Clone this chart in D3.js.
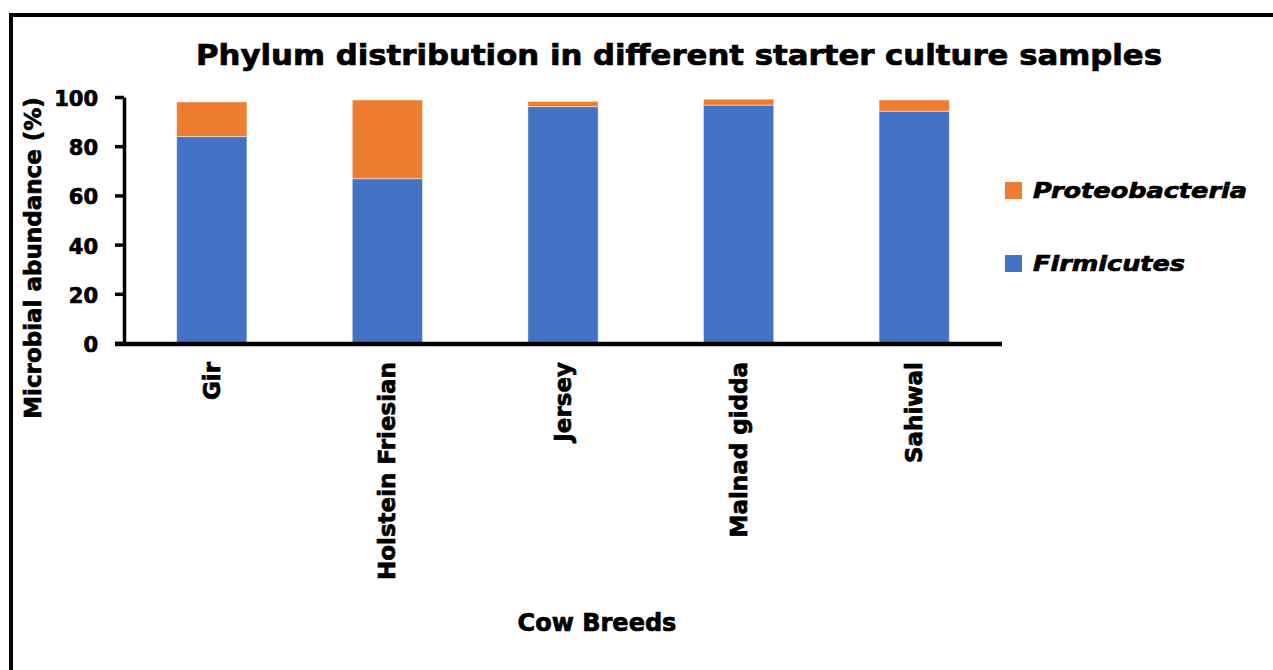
<!DOCTYPE html>
<html>
<head>
<meta charset="utf-8">
<script src="https://cdn.jsdelivr.net/npm/d3@7"></script>
<style>
  body { margin: 0; background: #fff; }
  svg { display: block; }
  text { font-family: "DejaVu Sans", "Liberation Sans", sans-serif; font-weight: bold; fill: #000;
         stroke: #000; stroke-width: 0.7px; paint-order: stroke; }
</style>
</head>
<body>
<div id="chart"></div>
<script>
// Data
const breeds = ["Gir", "Holstein Friesian", "Jersey", "Malnad gidda", "Sahiwal"];
const firmicutes = [83.9, 66.8, 96.1, 96.7, 94.2];
const proteobacteria = [14.1, 32.0, 2.1, 2.4, 4.6];
const seriesNames = ["Firmicutes", "Proteobacteria"];
const yTicks = [0, 20, 40, 60, 80, 100];

const width = 1273, height = 670;
const margin = {top: 97, right: 271, bottom: 327, left: 124};
const innerWidth = width - margin.left - margin.right;
const innerHeight = height - margin.top - margin.bottom;

const colors = {Firmicutes: "#4472C4", Proteobacteria: "#ED7D31"};

const svg = d3.select("#chart").append("svg")
    .attr("width", width).attr("height", height);

// outer frame: only top and left edges are visible in the source
svg.append("path")
    .attr("d", `M11,${height} V15 H${width}`)
    .attr("fill", "none").attr("stroke", "#000").attr("stroke-width", 4);

const g = svg.append("g").attr("transform", `translate(${margin.left},${margin.top})`);

// Scales
const x = d3.scaleBand().domain(breeds).range([0, innerWidth])
    .paddingInner(0.6).paddingOuter(0.3);
const y = d3.scaleLinear().domain([0, 100]).range([innerHeight, 0]);

// Stack
const rows = breeds.map((b, i) => ({breed: b, Firmicutes: firmicutes[i], Proteobacteria: proteobacteria[i]}));
const stacked = d3.stack().keys(seriesNames)(rows);

g.append("g")
    .selectAll("g")
    .data(stacked)
    .join("g")
    .attr("fill", d => colors[d.key])
    .selectAll("rect")
    .data(d => d)
    .join("rect")
        .attr("x", d => x(d.data.breed))
        .attr("y", d => y(d[1]))
        .attr("width", x.bandwidth())
        .attr("height", d => y(d[0]) - y(d[1]))
        .attr("stroke", "#ffffff")
        .attr("stroke-opacity", 0.45)
        .attr("stroke-width", 1);

// Y axis
const yAxis = g.append("g")
    .call(d3.axisLeft(y).tickValues(yTicks).tickSize(9).tickSizeOuter(0).tickPadding(17));
yAxis.select(".domain").attr("stroke", "#000").attr("stroke-width", 3.5);
yAxis.selectAll(".tick line").attr("stroke", "#000").attr("stroke-width", 3.5);
yAxis.selectAll(".tick text")
    .attr("font-size", "21px")
    .attr("font-family", "DejaVu Sans")
    .attr("font-weight", "bold")
    .attr("dy", "0.4em");

// X axis
const xAxis = g.append("g")
    .attr("transform", `translate(0,${innerHeight})`)
    .call(d3.axisBottom(x).tickSize(0).tickPadding(0));
xAxis.select(".domain").remove();
g.append("line")
    .attr("x1", -9).attr("x2", innerWidth)
    .attr("y1", innerHeight + 1).attr("y2", innerHeight + 1)
    .attr("stroke", "#000").attr("stroke-width", 4.5);
xAxis.selectAll(".tick text")
    .attr("font-size", "23px")
    .attr("font-family", "DejaVu Sans")
    .attr("font-weight", "bold")
    .attr("text-anchor", "end")
    .attr("transform", "rotate(-90)")
    .attr("x", -19)
    .attr("y", 0)
    .attr("dy", "0.35em");

// Title
svg.append("text")
    .attr("x", 679).attr("y", 65)
    .attr("text-anchor", "middle")
    .attr("font-size", "28px")
    .attr("textLength", 966)
    .attr("lengthAdjust", "spacingAndGlyphs")
    .text("Phylum distribution in different starter culture samples");

// Axis titles
svg.append("text")
    .attr("transform", "translate(41,258) rotate(-90)")
    .attr("text-anchor", "middle")
    .attr("font-size", "23px")
    .text("Microbial abundance (%)");

svg.append("text")
    .attr("x", 597).attr("y", 631)
    .attr("text-anchor", "middle")
    .attr("font-size", "24px")
    .text("Cow Breeds");

// Legend (top entry = top of the stack)
const legendItems = [
    {name: "Proteobacteria", y: 190, len: 214},
    {name: "Firmicutes", y: 263, len: 152}
];
const legend = svg.append("g");
legendItems.forEach(item => {
    legend.append("rect")
        .attr("x", 1005).attr("y", item.y - 8)
        .attr("width", 17).attr("height", 17)
        .attr("fill", colors[item.name]);
    legend.append("text")
        .attr("x", 1033).attr("y", item.y + 8)
        .attr("font-size", "21px")
        .attr("font-style", "italic")
        .attr("textLength", item.len)
        .attr("lengthAdjust", "spacingAndGlyphs")
        .text(item.name);
});
</script>
</body>
</html>
